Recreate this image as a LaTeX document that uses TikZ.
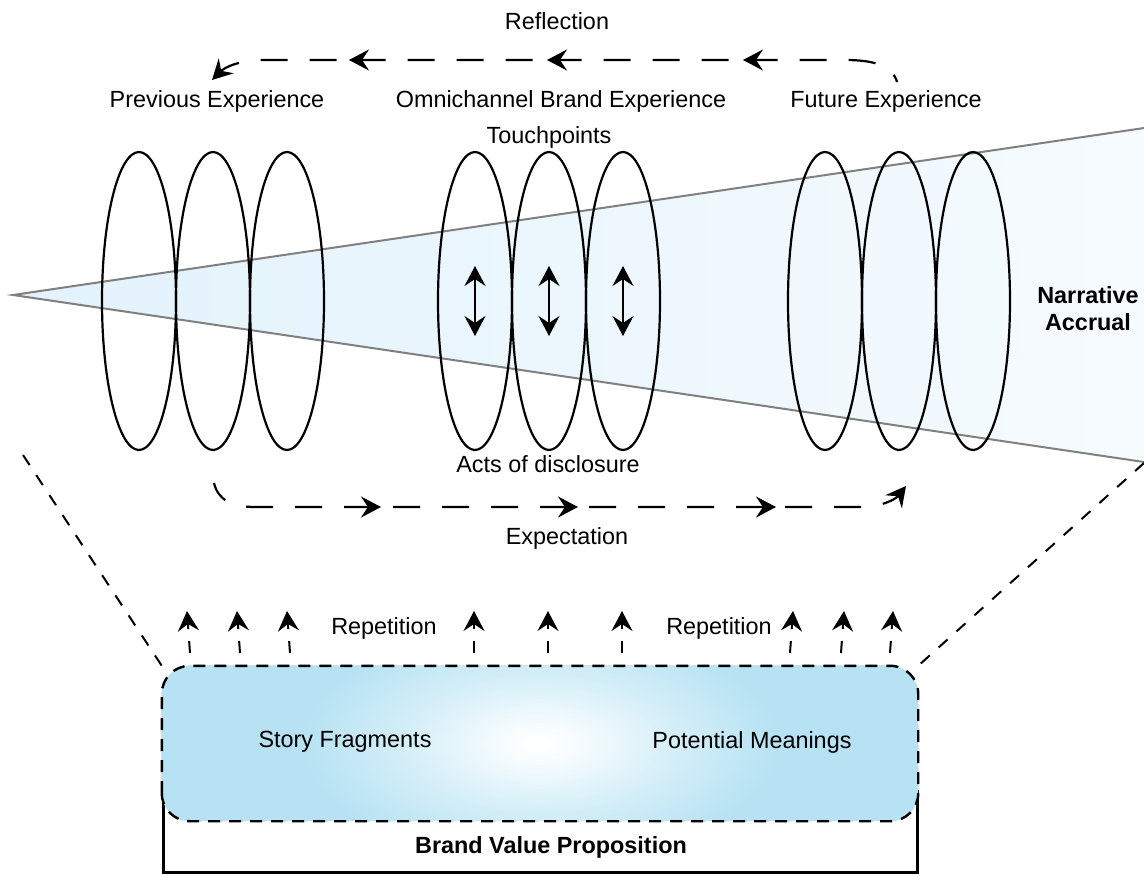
\documentclass[tikz,border=0pt]{standalone}
\usepackage{fontspec}
\setmainfont{Liberation Sans}
\usetikzlibrary{arrows.meta,shapes.geometric}
\definecolor{conegray}{RGB}{128,128,128}
\definecolor{coneL}{RGB}{226,242,252}
\definecolor{coneR}{RGB}{246,251,254}
\definecolor{boxblue}{RGB}{182,226,243}
\pgfdeclareradialshading{boxshade}{\pgfpoint{0bp}{0bp}}{color(0bp)=(white); color(2bp)=(white!92!boxblue); color(8bp)=(white!45!boxblue); color(15bp)=(boxblue); color(50bp)=(boxblue)}
\tikzset{
  x=1pt, y=-1pt,
  lbl/.style={font=\fontsize{23.4}{27}\selectfont, inner sep=0pt},
  blbl/.style={font=\fontsize{23.4}{27}\selectfont\bfseries, inner sep=0pt, align=center},
  ring/.style={draw=black, line width=2.2pt, ellipse, minimum width=74pt, minimum height=298pt, inner sep=0pt},
  tipA/.style={-{Stealth[length=20pt,width=21pt,inset=7pt]}},
  dbl/.style={line width=2pt, {Stealth[length=20pt,width=21pt,inset=7pt]}-{Stealth[length=20pt,width=21pt,inset=7pt]}},
  flowline/.style={line width=2.2pt, dash pattern=on 27pt off 22pt, tipA},
  flowmid/.style={line width=2.2pt, tipA},
  repline/.style={line width=2pt, dash pattern=on 12pt off 12pt, tipA},
  diagline/.style={line width=2pt, dash pattern=on 12pt off 12pt},
  boxline/.style={draw=black, line width=2.4pt, dash pattern=on 12pt off 9pt, rounded corners=28pt, minimum width=754pt, minimum height=153pt, inner sep=0pt},
  bracket/.style={line width=3pt}
}
\begin{document}
\begin{tikzpicture}
\useasboundingbox (0,0) rectangle (1144,876);

% cone
\coordinate (apex) at (13,295);
\coordinate (ctop) at (1144,128);
\coordinate (cbot) at (1144,462);
\path[left color=coneL, right color=coneR] (apex) -- (ctop) -- (cbot) -- cycle;
\draw[conegray, line width=2pt] (ctop) -- (apex) -- (cbot);

% rings
\foreach \cx/\nm in {139/a1, 213/a2, 287/a3, 475/b1, 549/b2, 623/b3, 825/c1, 899/c2, 973/c3}
  \node[ring] (\nm) at (\cx,301) {};

% double arrows
\foreach \nm in {b1,b2,b3}
  \draw[dbl] ([yshift=35pt]\nm.center) -- ([yshift=-35pt]\nm.center);

% labels
\node[lbl] (refl) at (557,21) {Reflection};
\node[lbl] (prev) at (217,101) {Previous Experience};
\node[lbl] (omni) at (561,101) {Omnichannel Brand Experience};
\node[lbl] (fut) at (886,101) {Future Experience};
\node[lbl] (touch) at (549,137) {Touchpoints};
\node[lbl] (acts) at (548,464) {Acts of disclosure};
\node[lbl] (expect) at (567,538) {Expectation};
\node[blbl] (narr) at (1088,309) {Narrative\\Accrual};
\node[lbl] (rep1) at (384,628) {Repetition};
\node[lbl] (rep2) at (719,628) {Repetition};

% reflection flow (top)
\coordinate (rs) at (897,82);
\coordinate (re) at (212,80);
\draw[flowline, dash phase=19pt] (rs) .. controls (893,67) and (877,60) .. (845,60) -- (265,60) .. controls (240,60) and (225,67) .. (re);
\foreach \x in {349,547,743}
  \draw[flowmid] (\x+32,60) -- (\x,60);

% expectation flow (bottom)
\coordinate (es) at (214,483);
\coordinate (ee) at (906,486);
\draw[flowline, dash phase=6pt] (es) .. controls (218,500) and (232,507) .. (255,507) -- (860,507) .. controls (880,507) and (895,500) .. (ee);
\foreach \x in {381,578,776}
  \draw[flowmid] (\x-32,507) -- (\x,507);

% bracket
\coordinate (bk1) at (163,792);
\coordinate (bk2) at (163,872);
\coordinate (bk3) at (917,872);
\coordinate (bk4) at (917,790);
\draw[bracket] (bk1) -- (bk2) -- (bk3) -- (bk4);

% box
\node[boxline] (box) at (540,743.5) {};
\begin{scope}
  \clip[rounded corners=28pt] (box.south west) rectangle (box.north east);
  \path[shading=boxshade] ([shift={(-400pt,-200pt)}]box.center) rectangle ([shift={(400pt,200pt)}]box.center);
\end{scope}
\draw[boxline] (box.south west) rectangle (box.north east);
\node[lbl] (story) at (345,742) {Story Fragments};
\node[lbl] (pot) at (752,742) {Potential Meanings};
\node[blbl] (bvp) at (551,847) {Brand Value Proposition};

% diagonal dashed lines
\coordinate (dl) at (23,455);
\coordinate (dr) at (1144,463);
\draw[diagline] (dl) -- (box.north west);
\draw[diagline] (dr) -- (box.north east);

% repetition arrows
\foreach \xb/\xt in {190/187, 240/237, 290/287, 474/474, 548/548, 622/622, 790/793, 841/844, 890/893}
  \draw[repline] (\xb,653) -- (\xt,611);
\end{tikzpicture}
\end{document}
